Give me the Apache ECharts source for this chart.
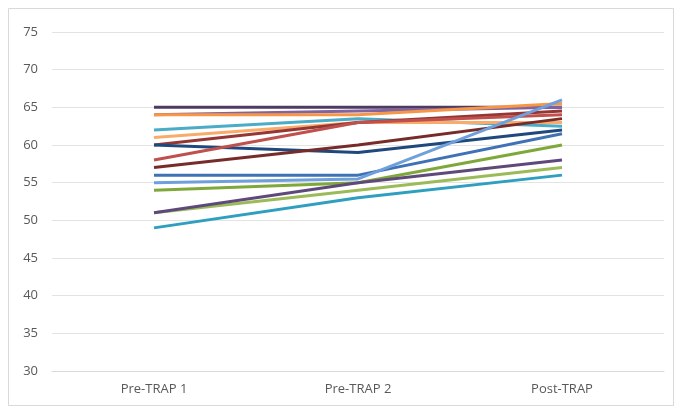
<!DOCTYPE html>
<html><head><meta charset="utf-8">
<script src="https://cdn.jsdelivr.net/npm/echarts@6/dist/echarts.min.js"></script>
<style>html,body{margin:0;padding:0;background:#fff}#c{width:682px;height:414px}</style>
</head><body><div id="c"></div>
<script>
const categories = ["Pre-TRAP 1", "Pre-TRAP 2", "Post-TRAP"];
const yTicks = [30, 35, 40, 45, 50, 55, 60, 65, 70, 75];
const s01 = [65, 65, 65];
const s02 = [64, 64.5, 65];
const s03 = [64, 64, 65.5];
const s04 = [62, 63.5, 62.5];
const s05 = [61, 63, 63];
const s06 = [60, 63, 64.5];
const s07 = [60, 59, 62];
const s08 = [58, 63, 64];
const s09 = [57, 60, 63.5];
const s10 = [56, 56, 61.5];
const s11 = [55, 55.5, 66];
const s12 = [54, 55, 60];
const s13 = [51, 54, 57];
const s14 = [51, 55, 58];
const s15 = [49, 53, 56];
const seriesData = [s01,s02,s03,s04,s05,s06,s07,s08,s09,s10,s11,s12,s13,s14,s15];
const colors = ["#4d3b62","#8064a2","#f79646","#4bacc6","#f9ab6b","#943634","#1f497d","#c0504d","#772c2a","#3f72b5","#6fa0dc","#7fa83a","#9bbb59","#5f497a","#2f9fbf"];

const chart = echarts.init(document.getElementById('c'), null, {renderer:'canvas'});
chart.setOption({
  animation: false,
  backgroundColor: '#fff',
  graphic: [{type:'rect', shape:{x:8.5,y:8.5,width:665,height:397}, style:{fill:'none',stroke:'#d9d9d9',lineWidth:1}, silent:true}],
  grid: {left: 52, right: 18, top: 32, bottom: 43},
  xAxis: {
    type: 'category', data: categories, boundaryGap: true,
    axisLine: {show: true, lineStyle: {color: '#d9d9d9', width: 1}},
    axisTick: {show: false},
    axisLabel: {color: '#595959', fontSize: 13, fontFamily: 'Open Sans', margin: 12}
  },
  yAxis: {
    type: 'value', min: 30, max: 75, interval: 5,
    axisLine: {show: false}, axisTick: {show: false},
    splitLine: {lineStyle: {color: '#e3e3e3', width: 1}},
    axisLabel: {color: '#595959', fontSize: 13, fontFamily: 'Open Sans', margin: 14}
  },
  series: seriesData.map((d, i) => ({
    type: 'line', data: d, showSymbol: false, symbol: 'none',
    lineStyle: {width: 3, color: colors[i]}, itemStyle: {color: colors[i]}
  }))
});
</script></body></html>
